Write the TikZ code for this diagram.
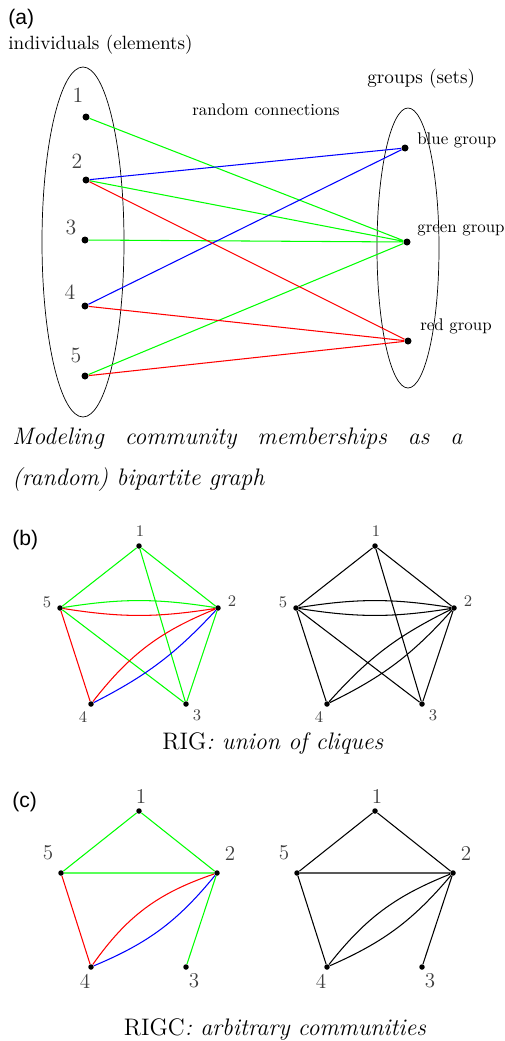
\documentclass[tikz,border=0pt]{standalone}
\usepackage{fontspec}
\newfontfamily\panelfont{Liberation Sans}
\usepackage{tikz}
\usetikzlibrary{calc}
\definecolor{grpgreen}{RGB}{0,255,0}
\definecolor{grpblue}{RGB}{0,0,255}
\definecolor{grpred}{RGB}{255,0,0}
\tikzset{
  member/.style={circle, fill=black, inner sep=0pt, minimum size=1.4mm},
  vertex/.style={circle, fill=black, inner sep=0pt, minimum size=1.1mm},
  tag/.style={inner sep=0pt, anchor=base west, font=\panelfont\fontsize{12}{14}\selectfont},
  heading/.style={inner sep=0pt, anchor=base west, font=\fontsize{10.9}{13}\selectfont},
  grouplabel/.style={inner sep=0pt, anchor=base west, font=\fontsize{9.6}{11}\selectfont},
  bignum/.style={inner sep=0pt, anchor=base, text=black!75, font=\fontsize{12.4}{14}\selectfont},
  smallnum/.style={inner sep=0pt, text=black!75, font=\fontsize{9.2}{11}\selectfont},
  midnum/.style={inner sep=0pt, text=black!75, font=\fontsize{12}{14}\selectfont},
  caption/.style={inner sep=0pt, anchor=base, font=\fontsize{13.6}{16}\selectfont},
  link/.style={line width=0.6pt},
}

\begin{document}
\begin{tikzpicture}[x=0.02cm, y=-0.02cm]
  \useasboundingbox (0,0) rectangle (504,1041);

  % (a) bipartite graph
  \node[tag] (tagA) at (8,25) {(a)};
  \node[heading] (indiv) at (8,50) {individuals (elements)};
  \node[grouplabel] (random) at (192,115) {random connections};
  \node[heading] (groups) at (367,83) {groups (sets)};
  \draw (83,242) ellipse [x radius=41, y radius=175];
  \draw (408,248) ellipse [x radius=31, y radius=140];
  \foreach \n/\x/\y/\lx/\ly in {1/86/117/78/102, 2/86/180/77/168, 3/85/240/71/234,
                                4/85/306/70/299, 5/85/376/76/362} {
    \node[member] (m\n) at (\x,\y) {};
    \node[bignum] (m\n-num) at (\lx,\ly) {\n};
  }
  \node[member] (blue) at (405,148) {};
  \node[member] (green) at (407,242) {};
  \node[member] (red) at (408,341) {};
  \node[grouplabel] (blue-lab) at (417,144) {blue group};
  \node[grouplabel] (green-lab) at (417,232) {green group};
  \node[grouplabel] (red-lab) at (420,330) {red group};
  \draw[link, grpgreen] (m1) -- (green) (m2) -- (green) (m3) -- (green) (m5) -- (green);
  \draw[link, grpblue] (m2) -- (blue) (m4) -- (blue);
  \draw[link, grpred] (m2) -- (red) (m4) -- (red) (m5) -- (red);
  \node[caption, anchor=base west] (capA1) at (12,444)
    {\makebox[9cm][s]{\itshape Modeling community memberships as a}};
  \node[caption, anchor=base west] (capA2) at (12,485) {\itshape (random) bipartite graph};

  % (b) union of cliques
  \node[tag] (tagB) at (12,545) {(b)};
  \foreach \side/\dx in {L/0, R/236} {
    \foreach \n/\x/\y in {1/139/546, 2/218/608, 3/186/704, 4/91/704, 5/60/608}
      \node[vertex] (b\side\n) at (\x+\dx,\y) {};
    \foreach \n/\ox/\oy in {1/1/-15, 2/14/-7, 3/11/11, 4/-8/13, 5/-13/-6}
      \node[smallnum] (b\side\n-num) at ($(b\side\n)+(\ox,\oy)$) {\n};
  }
  \draw[link, grpgreen] (bL1) -- (bL5) (bL1) -- (bL2) (bL1) -- (bL3)
    (bL5) -- (bL3) (bL2) -- (bL3) (bL5) to[bend left=9] (bL2);
  \draw[link, grpred] (bL5) to[bend right=9] (bL2) (bL5) -- (bL4)
    (bL4) to[bend left=15] (bL2);
  \draw[link, grpblue] (bL4) to[bend right=10] (bL2);
  \draw[link] (bR1) -- (bR5) (bR1) -- (bR2) (bR1) -- (bR3) (bR5) -- (bR3)
    (bR2) -- (bR3) (bR5) -- (bR4) (bR5) to[bend left=9] (bR2)
    (bR5) to[bend right=9] (bR2) (bR4) to[bend left=11] (bR2)
    (bR4) to[bend right=11] (bR2);
  \node[caption] (capB) at (273,749) {RIG\textit{: union of cliques}};

  % (c) arbitrary communities
  \node[tag] (tagC) at (12,807) {(c)};
  \foreach \side/\dx in {L/0, R/236} {
    \foreach \n/\x/\y in {1/139/811, 2/217/873, 3/186/967, 4/91/967, 5/61/873}
      \node[vertex] (c\side\n) at (\x+\dx,\y) {};
    \foreach \n/\ox/\oy in {1/2/-15, 2/13/-20, 3/8/14, 4/-6/14, 5/-13/-20}
      \node[midnum] (c\side\n-num) at ($(c\side\n)+(\ox,\oy)$) {\n};
  }
  \draw[link, grpgreen] (cL1) -- (cL5) (cL1) -- (cL2) (cL5) -- (cL2) (cL2) -- (cL3);
  \draw[link, grpred] (cL5) -- (cL4) (cL4) to[bend left=18] (cL2);
  \draw[link, grpblue] (cL4) to[bend right=14] (cL2);
  \draw[link] (cR1) -- (cR5) (cR1) -- (cR2) (cR5) -- (cR2) (cR2) -- (cR3)
    (cR5) -- (cR4) (cR4) to[bend left=15] (cR2) (cR4) to[bend right=13] (cR2);
  \node[caption] (capC) at (275,1035) {RIGC\textit{: arbitrary communities}};
\end{tikzpicture}
\end{document}
